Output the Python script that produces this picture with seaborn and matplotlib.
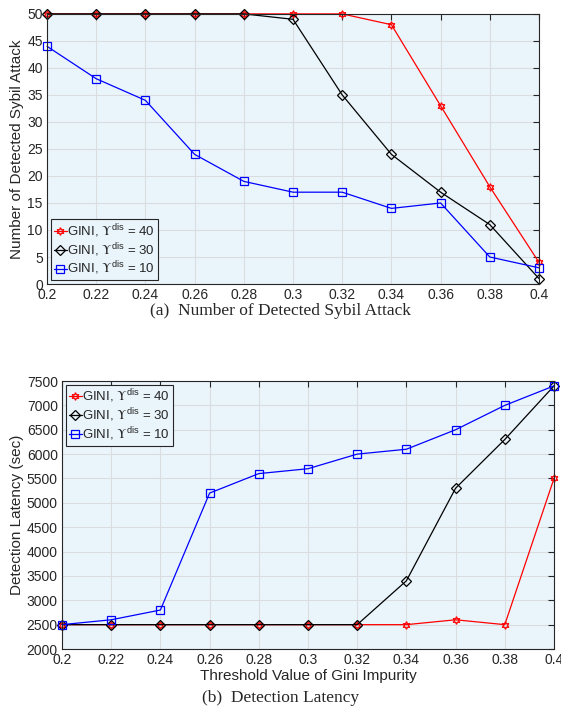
import matplotlib
matplotlib.use("Agg")
import matplotlib.pyplot as plt
import seaborn as sns
import pandas as pd

threshold = [0.2, 0.22, 0.24, 0.26, 0.28, 0.3, 0.32, 0.34, 0.36, 0.38, 0.4]

detected_40 = [50, 50, 50, 50, 50, 50, 50, 48, 33, 18, 4]
detected_30 = [50, 50, 50, 50, 50, 49, 35, 24, 17, 11, 1]
detected_10 = [44, 38, 34, 24, 19, 17, 17, 14, 15, 5, 3]

latency_40 = [2500, 2500, 2500, 2500, 2500, 2500, 2500, 2500, 2600, 2500, 5500]
latency_30 = [2500, 2500, 2500, 2500, 2500, 2500, 2500, 3400, 5300, 6300, 7400]
latency_10 = [2500, 2600, 2800, 5200, 5600, 5700, 6000, 6100, 6500, 7000, 7400]

labels = [r"GINI, $\mathsf{\Upsilon}^{\mathrm{dis}}$ = 40",
          r"GINI, $\mathsf{\Upsilon}^{\mathrm{dis}}$ = 30",
          r"GINI, $\mathsf{\Upsilon}^{\mathrm{dis}}$ = 10"]

sns.set_style("whitegrid")
plt.rcParams['font.family'] = ['Liberation Sans', 'DejaVu Sans']
plt.rcParams['mathtext.fontset'] = 'custom'
plt.rcParams['mathtext.rm'] = 'Liberation Sans'
plt.rcParams['mathtext.sf'] = 'STIXGeneral'

axis_col = "#262626"
bg = "#eaf5fb"
styles = [("red", (6, 1, 0)), ("black", "D"), ("blue", "s")]


def draw(ax, series, ylim, yticks, ylabel, legend_loc, xlabel=None):
    for vals, lab, (col, mk) in zip(series, labels, styles):
        df = pd.DataFrame({"x": threshold, "y": vals})
        sns.lineplot(data=df, x="x", y="y", ax=ax, color=col, marker=mk,
                     markersize=5 if mk == "D" else 5.5, markerfacecolor="none",
                     markeredgecolor=col, markeredgewidth=0.9, linewidth=0.9,
                     label=lab, clip_on=False, zorder=3)
    ax.set_facecolor(bg)
    ax.set_xlim(0.2, 0.4)
    ax.set_ylim(*ylim)
    ax.set_xticks(threshold)
    ax.set_xticklabels([f"{t:g}" for t in threshold])
    ax.set_yticks(yticks)
    ax.grid(True, color="#d9dde0", linewidth=0.8)
    ax.tick_params(direction="in", length=4, labelsize=10, colors=axis_col,
                   top=True, right=True, pad=3)
    for s in ax.spines.values():
        s.set_color(axis_col)
        s.set_linewidth(0.8)
        s.set_visible(True)
        s.set_zorder(4)
    if xlabel:
        ax.set_xlabel(xlabel, fontsize=11, color=axis_col, labelpad=1)
    else:
        ax.set_xlabel("")
    ax.set_ylabel(ylabel, fontsize=11, color=axis_col, labelpad=2)
    leg = ax.legend(loc=legend_loc, fontsize=9.5, handlelength=1.0,
                    handletextpad=0.05, borderpad=0.2, labelspacing=0.1,
                    borderaxespad=0.3, fancybox=False, framealpha=1)
    leg.get_frame().set_edgecolor(axis_col)
    leg.get_frame().set_facecolor(bg)
    leg.get_frame().set_linewidth(0.8)
    leg.set_zorder(5)


fig = plt.figure(figsize=(5.61, 7.09), dpi=100)
ax1 = fig.add_axes([0.0838, 0.5994, 0.877, 0.381])
ax2 = fig.add_axes([0.1105, 0.0846, 0.877, 0.378])

draw(ax1, [detected_40, detected_30, detected_10], (0, 50), range(0, 51, 5),
     "Number of Detected Sybil Attack", "lower left")
draw(ax2, [latency_40, latency_30, latency_10], (2000, 7500),
     range(2000, 7501, 500), "Detection Latency (sec)", "upper left",
     xlabel="Threshold Value of Gini Impurity")

fig.text(0.5, 0.562, "(a)  Number of Detected Sybil Attack", ha="center",
         va="center", fontsize=12.5, family="Liberation Serif")
fig.text(0.5, 0.016, "(b)  Detection Latency", ha="center",
         va="center", fontsize=12.5, family="Liberation Serif")

fig.savefig("out.png", dpi=100)
